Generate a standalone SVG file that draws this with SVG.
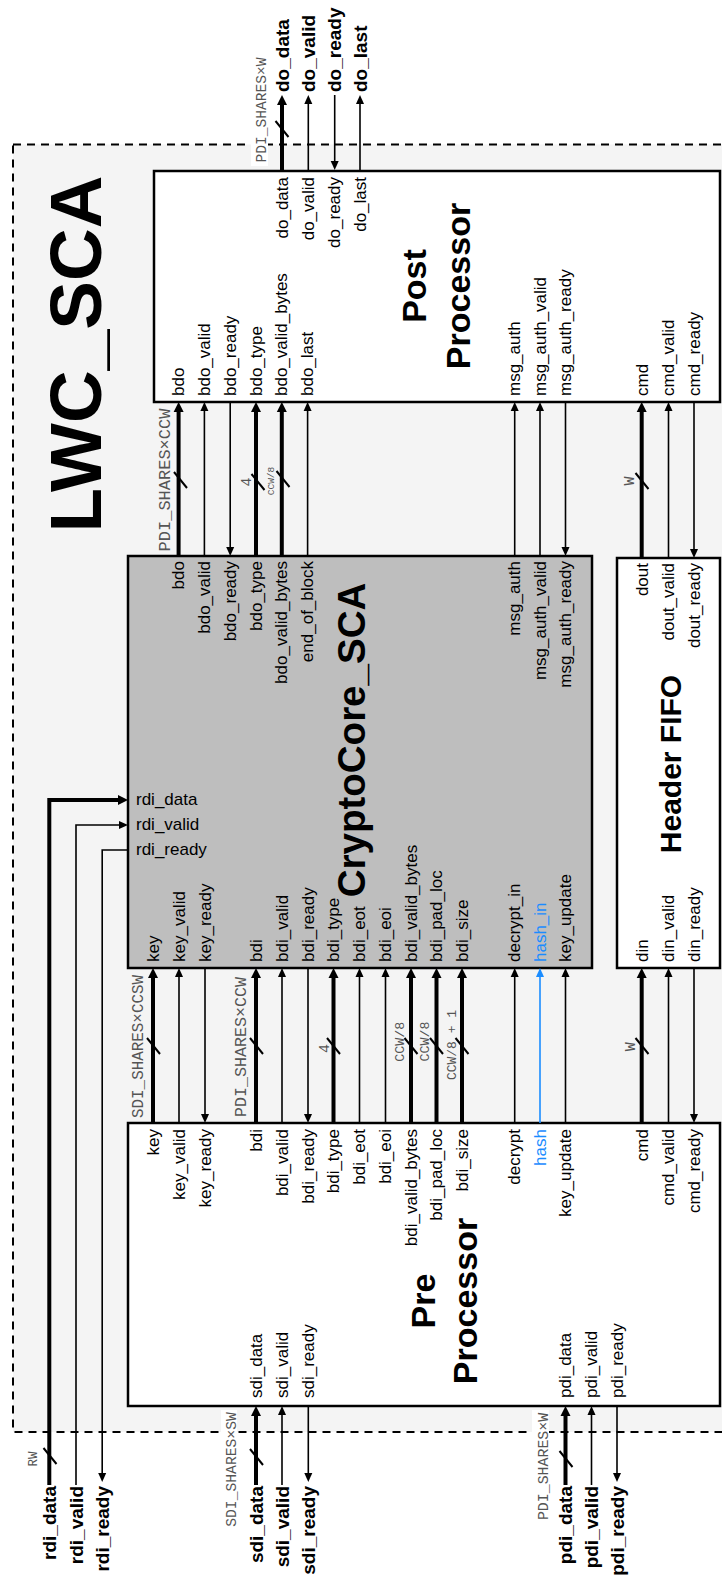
<svg xmlns="http://www.w3.org/2000/svg" width="722" height="1579" viewBox="0 0 722 1579">
<defs>
<style>
.lbl{font-family:"Liberation Sans",Arial,sans-serif;font-size:17px;fill:#000}
.io{font-family:"Liberation Sans",Arial,sans-serif;font-size:19px;font-weight:bold;fill:#000}
.ttl{font-family:"Liberation Sans",Arial,sans-serif;font-weight:bold;fill:#000;text-anchor:middle}
.w{font-family:"Liberation Mono","Courier New",monospace;fill:#555;text-anchor:middle}
.e{text-anchor:end}
.blu{fill:#1a8cff}
.thk{stroke:#000;stroke-width:4;fill:none}
.thn{stroke:#000;stroke-width:1.6;fill:none}
.bl{stroke:#1a8cff;stroke-width:1.6;fill:none}
.sl{stroke:#000;stroke-width:2}
.box{stroke:#000;stroke-width:2.5}
.up{marker-end:url(#as)}
</style>
<marker id="ab" markerUnits="userSpaceOnUse" markerWidth="10" markerHeight="10" refX="0" refY="5" orient="auto" overflow="visible"><path d="M0,0 L10,5 L0,10 z" fill="#000"/></marker>
<marker id="as" markerUnits="userSpaceOnUse" markerWidth="9" markerHeight="8" refX="0" refY="4" orient="auto" overflow="visible"><path d="M0,0 L9,4 L0,8 z" fill="#000"/></marker>
<marker id="asb" markerUnits="userSpaceOnUse" markerWidth="9" markerHeight="8" refX="0" refY="4" orient="auto" overflow="visible"><path d="M0,0 L9,4 L0,8 z" fill="#1a8cff"/></marker>
</defs>

<g id="lwc_sca">
<rect x="13" y="144.5" width="740" height="1287.5" fill="#f4f4f4" stroke="#000" stroke-width="2" stroke-dasharray="8 6"/>
<text class="ttl" font-size="73" transform="translate(101 354) rotate(-90)">LWC_SCA</text>
</g>

<g id="post_processor">
<rect class="box" x="154" y="171" width="566" height="231" fill="#fff"/>
<text class="ttl" font-size="34" transform="translate(426 286) rotate(-90)">Post</text>
<text class="ttl" font-size="34" transform="translate(470 286) rotate(-90)">Processor</text>
<g class="lbl e">
<text transform="translate(287.5 177) rotate(-90)">do_data</text>
<text transform="translate(313.8 177) rotate(-90)">do_valid</text>
<text transform="translate(340.2 177) rotate(-90)">do_ready</text>
<text transform="translate(365.5 177) rotate(-90)">do_last</text>
</g>
<g class="lbl">
<text transform="translate(184.1 396) rotate(-90)">bdo</text>
<text transform="translate(209.9 396) rotate(-90)">bdo_valid</text>
<text transform="translate(235.7 396) rotate(-90)">bdo_ready</text>
<text transform="translate(261.5 396) rotate(-90)">bdo_type</text>
<text transform="translate(287.3 396) rotate(-90)">bdo_valid_bytes</text>
<text transform="translate(313.1 396) rotate(-90)">bdo_last</text>
<text transform="translate(520.2 396) rotate(-90)">msg_auth</text>
<text transform="translate(545.5 396) rotate(-90)">msg_auth_valid</text>
<text transform="translate(571 396) rotate(-90)">msg_auth_ready</text>
<text transform="translate(647.5 396) rotate(-90)">cmd</text>
<text transform="translate(674 396) rotate(-90)">cmd_valid</text>
<text transform="translate(699.5 396) rotate(-90)">cmd_ready</text>
</g>
</g>

<g id="cryptocore_sca">
<rect class="box" x="128" y="556" width="464" height="412" fill="#bebebe"/>
<text class="ttl" font-size="38.5" transform="translate(365 740) rotate(-90)">CryptoCore_SCA</text>
<g class="lbl e">
<text transform="translate(184.1 561) rotate(-90)">bdo</text>
<text transform="translate(209.9 561) rotate(-90)">bdo_valid</text>
<text transform="translate(235.7 561) rotate(-90)">bdo_ready</text>
<text transform="translate(261.5 561) rotate(-90)">bdo_type</text>
<text transform="translate(287.3 561) rotate(-90)">bdo_valid_bytes</text>
<text transform="translate(313.1 561) rotate(-90)">end_of_block</text>
<text transform="translate(520.2 561) rotate(-90)">msg_auth</text>
<text transform="translate(545.5 561) rotate(-90)">msg_auth_valid</text>
<text transform="translate(571 561) rotate(-90)">msg_auth_ready</text>
</g>
<g class="lbl">
<text x="136" y="805">rdi_data</text>
<text x="136" y="830">rdi_valid</text>
<text x="136" y="855">rdi_ready</text>
<text transform="translate(158.5 962) rotate(-90)">key</text>
<text transform="translate(184.5 962) rotate(-90)">key_valid</text>
<text transform="translate(210.5 962) rotate(-90)">key_ready</text>
<text transform="translate(261.5 962) rotate(-90)">bdi</text>
<text transform="translate(287.5 962) rotate(-90)">bdi_valid</text>
<text transform="translate(313.5 962) rotate(-90)">bdi_ready</text>
<text transform="translate(339 962) rotate(-90)">bdi_type</text>
<text transform="translate(365 962) rotate(-90)">bdi_eot</text>
<text transform="translate(391 962) rotate(-90)">bdi_eoi</text>
<text transform="translate(416.5 962) rotate(-90)">bdi_valid_bytes</text>
<text transform="translate(442 962) rotate(-90)">bdi_pad_loc</text>
<text transform="translate(467.5 962) rotate(-90)">bdi_size</text>
<text transform="translate(520.2 962) rotate(-90)">decrypt_in</text>
<text class="blu" transform="translate(545.5 962) rotate(-90)">hash_in</text>
<text transform="translate(571 962) rotate(-90)">key_update</text>
</g>
</g>

<g id="header_fifo">
<rect class="box" x="617" y="558" width="103" height="410" fill="#fff"/>
<text class="ttl" font-size="30" transform="translate(681 764) rotate(-90)">Header FIFO</text>
<g class="lbl e">
<text transform="translate(647.5 563) rotate(-90)">dout</text>
<text transform="translate(674 563) rotate(-90)">dout_valid</text>
<text transform="translate(699.5 563) rotate(-90)">dout_ready</text>
</g>
<g class="lbl">
<text transform="translate(647.5 962) rotate(-90)">din</text>
<text transform="translate(674 962) rotate(-90)">din_valid</text>
<text transform="translate(699.5 962) rotate(-90)">din_ready</text>
</g>
</g>

<g id="pre_processor">
<rect class="box" x="128" y="1123" width="592" height="283" fill="#fff"/>
<text class="ttl" font-size="34" transform="translate(435 1301) rotate(-90)">Pre</text>
<text class="ttl" font-size="34" transform="translate(477 1301) rotate(-90)">Processor</text>
<g class="lbl e">
<text transform="translate(158.5 1129) rotate(-90)">key</text>
<text transform="translate(184.5 1129) rotate(-90)">key_valid</text>
<text transform="translate(210.5 1129) rotate(-90)">key_ready</text>
<text transform="translate(261.5 1129) rotate(-90)">bdi</text>
<text transform="translate(287.5 1129) rotate(-90)">bdi_valid</text>
<text transform="translate(313.5 1129) rotate(-90)">bdi_ready</text>
<text transform="translate(339 1129) rotate(-90)">bdi_type</text>
<text transform="translate(365 1129) rotate(-90)">bdi_eot</text>
<text transform="translate(391 1129) rotate(-90)">bdi_eoi</text>
<text transform="translate(416.5 1129) rotate(-90)">bdi_valid_bytes</text>
<text transform="translate(442 1129) rotate(-90)">bdi_pad_loc</text>
<text transform="translate(467.5 1129) rotate(-90)">bdi_size</text>
<text transform="translate(520.2 1129) rotate(-90)">decrypt</text>
<text class="blu" transform="translate(545.5 1129) rotate(-90)">hash</text>
<text transform="translate(571 1129) rotate(-90)">key_update</text>
<text transform="translate(647.5 1129) rotate(-90)">cmd</text>
<text transform="translate(674 1129) rotate(-90)">cmd_valid</text>
<text transform="translate(699.5 1129) rotate(-90)">cmd_ready</text>
</g>
<g class="lbl">
<text transform="translate(261.5 1398) rotate(-90)">sdi_data</text>
<text transform="translate(287.5 1398) rotate(-90)">sdi_valid</text>
<text transform="translate(313.8 1398) rotate(-90)">sdi_ready</text>
<text transform="translate(571 1398) rotate(-90)">pdi_data</text>
<text transform="translate(597 1398) rotate(-90)">pdi_valid</text>
<text transform="translate(622.5 1398) rotate(-90)">pdi_ready</text>
</g>
</g>

<g id="connectors">
<!-- top outputs -->
<path class="thk" d="M282,171 V105" marker-end="url(#ab)"/>
<path class="thn up" d="M308.3,171 V104"/>
<path class="thn up" d="M334.7,95 V161"/>
<path class="thn up" d="M360,171 V104"/>
<!-- core to post processor -->
<path class="thk" d="M178.6,556 V412" marker-end="url(#ab)"/>
<path class="thn up" d="M204.4,556 V411"/>
<path class="thn up" d="M230.2,402 V547"/>
<path class="thk" d="M256,556 V412" marker-end="url(#ab)"/>
<path class="thk" d="M281.8,556 V412" marker-end="url(#ab)"/>
<path class="thn up" d="M307.6,556 V411"/>
<path class="thn up" d="M514.7,556 V411"/>
<path class="thn up" d="M540,556 V411"/>
<path class="thn up" d="M565.5,402 V547"/>
<path class="thk" d="M641.7,558 V412" marker-end="url(#ab)"/>
<path class="thn up" d="M668.5,558 V411"/>
<path class="thn up" d="M694,402 V549"/>
<!-- pre processor to core -->
<path class="thk" d="M153,1123 V978" marker-end="url(#ab)"/>
<path class="thn up" d="M179,1123 V977"/>
<path class="thn up" d="M205,968 V1114"/>
<path class="thk" d="M256,1123 V978" marker-end="url(#ab)"/>
<path class="thn up" d="M282,1123 V977"/>
<path class="thn up" d="M308,968 V1114"/>
<path class="thk" d="M333.5,1123 V978" marker-end="url(#ab)"/>
<path class="thn up" d="M359.5,1123 V977"/>
<path class="thn up" d="M385.5,1123 V977"/>
<path class="thk" d="M411,1123 V978" marker-end="url(#ab)"/>
<path class="thk" d="M436.5,1123 V978" marker-end="url(#ab)"/>
<path class="thk" d="M462,1123 V978" marker-end="url(#ab)"/>
<path class="thn up" d="M514.7,1123 V977"/>
<path class="bl" d="M540,1123 V977" marker-end="url(#asb)"/>
<path class="thn up" d="M565.5,1123 V977"/>
<path class="thk" d="M641.7,1123 V978" marker-end="url(#ab)"/>
<path class="thn up" d="M668.5,1123 V977"/>
<path class="thn up" d="M694,968 V1114"/>
<!-- bottom inputs -->
<path class="thk" d="M256,1485 V1416" marker-end="url(#ab)"/>
<path class="thn up" d="M282,1485 V1415"/>
<path class="thn up" d="M308.3,1406 V1473"/>
<path class="thk" d="M565.5,1485 V1416" marker-end="url(#ab)"/>
<path class="thn up" d="M591.5,1485 V1415"/>
<path class="thn up" d="M617,1406 V1473"/>
<!-- rdi -->
<path class="thk" d="M49.3,1485 V800 H118" marker-end="url(#ab)"/>
<path class="thn up" d="M76,1485 V825 H119"/>
<path class="thn up" d="M128,850 H102.2 V1473"/>
<!-- bus slashes -->
<g class="sl">
<line x1="275.5" y1="121" x2="288.5" y2="137"/>
<line x1="174" y1="472" x2="187" y2="488"/>
<line x1="251.5" y1="474" x2="264.5" y2="490"/>
<line x1="276.5" y1="471" x2="289.5" y2="487"/>
<line x1="635.5" y1="473" x2="648.5" y2="489"/>
<line x1="147" y1="1038" x2="160" y2="1054"/>
<line x1="250" y1="1038" x2="263" y2="1054"/>
<line x1="327" y1="1038" x2="340" y2="1054"/>
<line x1="404.5" y1="1038" x2="417.5" y2="1054"/>
<line x1="430" y1="1038" x2="443" y2="1054"/>
<line x1="455.5" y1="1038" x2="468.5" y2="1054"/>
<line x1="635.5" y1="1038" x2="648.5" y2="1054"/>
<line x1="43.5" y1="1448" x2="56.5" y2="1464"/>
<line x1="250" y1="1449" x2="263" y2="1465"/>
<line x1="559.5" y1="1451" x2="572.5" y2="1467"/>
</g>
</g>

<g id="bus_widths">
<rect x="251" y="55" width="17" height="111" fill="#fff"/>
<rect x="221" y="1410" width="16" height="120" fill="#fff"/>
<rect x="532" y="1410" width="17" height="113" fill="#fff"/>
<text class="w" font-size="14.6" transform="translate(266 110) rotate(-90)">PDI_SHARES×W</text>
<text class="w" font-size="17" transform="translate(169.5 480) rotate(-90)">PDI_SHARES×CCW</text>
<text class="w" font-size="15" transform="translate(251 482) rotate(-90)">4</text>
<text class="w" font-size="9.5" transform="translate(273.5 481) rotate(-90)">CCW/8</text>
<text class="w" font-size="15" transform="translate(634 481) rotate(-90)">W</text>
<text class="w" font-size="15.9" transform="translate(143 1046.5) rotate(-90)">SDI_SHARES×CCSW</text>
<text class="w" font-size="16.7" transform="translate(246 1047) rotate(-90)">PDI_SHARES×CCW</text>
<text class="w" font-size="15" transform="translate(328.5 1048.5) rotate(-90)">4</text>
<text class="w" font-size="13.3" transform="translate(403.5 1041.7) rotate(-90)">CCW/8</text>
<text class="w" font-size="13.3" transform="translate(428.5 1041.5) rotate(-90)">CCW/8</text>
<text class="w" font-size="13" transform="translate(456 1045) rotate(-90)">CCW/8 + 1</text>
<text class="w" font-size="15" transform="translate(635 1046.7) rotate(-90)">W</text>
<text class="w" font-size="12.5" transform="translate(37 1459) rotate(-90)">RW</text>
<text class="w" font-size="14.7" transform="translate(235.5 1469.5) rotate(-90)">SDI_SHARES×SW</text>
<text class="w" font-size="14.9" transform="translate(547.5 1466.5) rotate(-90)">PDI_SHARES×W</text>
</g>

<g id="ports">
<g class="io">
<text transform="translate(288.5 92) rotate(-90)">do_data</text>
<text transform="translate(314.8 92) rotate(-90)">do_valid</text>
<text transform="translate(341.2 92) rotate(-90)">do_ready</text>
<text transform="translate(366.5 92) rotate(-90)">do_last</text>
</g>
<g class="io e">
<text transform="translate(55.8 1486) rotate(-90)">rdi_data</text>
<text transform="translate(82.5 1486) rotate(-90)">rdi_valid</text>
<text transform="translate(108.7 1486) rotate(-90)">rdi_ready</text>
<text transform="translate(262.5 1486) rotate(-90)">sdi_data</text>
<text transform="translate(288.5 1486) rotate(-90)">sdi_valid</text>
<text transform="translate(314.8 1486) rotate(-90)">sdi_ready</text>
<text transform="translate(572 1486) rotate(-90)">pdi_data</text>
<text transform="translate(598 1486) rotate(-90)">pdi_valid</text>
<text transform="translate(623.5 1486) rotate(-90)">pdi_ready</text>
</g>
</g>
</svg>
